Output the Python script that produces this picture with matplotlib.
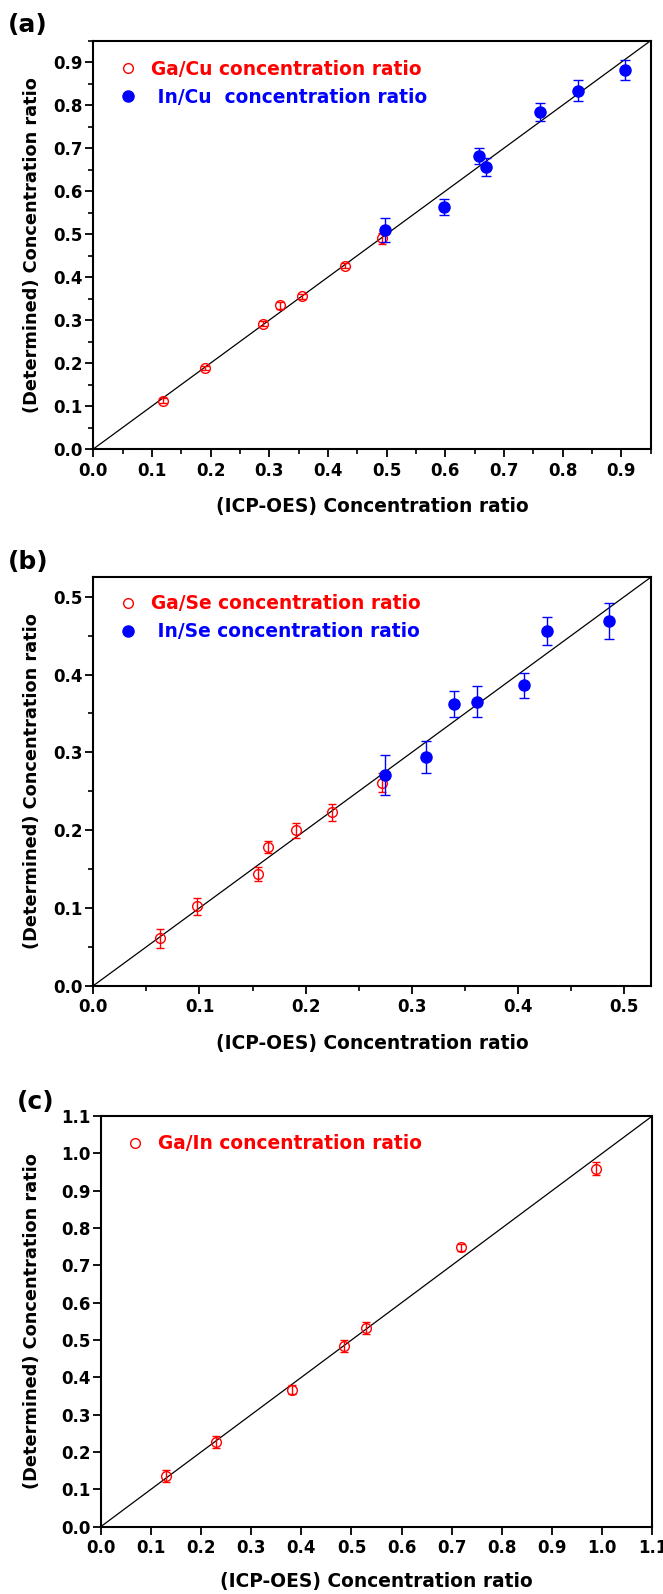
"""
plot.py
----------

Determined vs. ICP-OES concentration ratios, three stacked panels.
"""

import matplotlib
matplotlib.use('Agg')
from matplotlib import pyplot as plt
from matplotlib.lines import Line2D
from matplotlib.ticker import MultipleLocator, FormatStrFormatter

# panel (a): Ga/Cu and In/Cu
gacu_icp = [0.118, 0.190, 0.290, 0.319, 0.355, 0.429, 0.492]
gacu_det = [0.112, 0.188, 0.292, 0.334, 0.355, 0.426, 0.490]
gacu_err = [0.006, 0.005, 0.006, 0.008, 0.006, 0.006, 0.012]

incu_icp = [0.498, 0.597, 0.657, 0.670, 0.761, 0.826, 0.906]
incu_det = [0.510, 0.563, 0.682, 0.656, 0.784, 0.834, 0.882]
incu_err = [0.028, 0.019, 0.019, 0.021, 0.021, 0.024, 0.024]

# panel (b): Ga/Se and In/Se
gase_icp = [0.063, 0.098, 0.155, 0.165, 0.191, 0.225, 0.272]
gase_det = [0.061, 0.102, 0.144, 0.178, 0.200, 0.223, 0.261]
gase_err = [0.012, 0.011, 0.009, 0.008, 0.0095, 0.011, 0.012]

inse_icp = [0.275, 0.313, 0.340, 0.361, 0.406, 0.427, 0.486]
inse_det = [0.271, 0.294, 0.362, 0.365, 0.386, 0.456, 0.469]
inse_err = [0.0255, 0.021, 0.0165, 0.020, 0.0163, 0.018, 0.0227]

# panel (c): Ga/In
gain_icp = [0.131, 0.230, 0.382, 0.486, 0.529, 0.718, 0.987]
gain_det = [0.136, 0.227, 0.367, 0.484, 0.532, 0.748, 0.959]
gain_err = [0.017, 0.017, 0.012, 0.015, 0.016, 0.010, 0.017]

XLABEL = '(ICP-OES) Concentration ratio'
YLABEL = '(Determined) Concentration ratio'

RED = '#ff0000'
BLUE = '#0000ff'


def open_red(ax, x, y, err):
    """Red open circles with error bars."""
    ax.errorbar(x, y, yerr=err, fmt='o', ms=7, mfc='none', mec=RED, mew=1.0,
                ecolor=RED, elinewidth=1.0, capsize=3.2, capthick=1.0, zorder=3)


def filled_blue(ax, x, y, err):
    """Blue filled circles with error bars."""
    ax.errorbar(x, y, yerr=err, fmt='o', ms=8, mfc=BLUE, mec=BLUE, mew=1.0,
                ecolor=BLUE, elinewidth=1.0, capsize=3.6, capthick=1.0, zorder=4)


def style_axes(ax, lim, minor=True):
    """Limits, y=x line, ticks and labels shared by every panel."""
    ax.set_xlim(0, lim)
    ax.set_ylim(0, lim)
    ax.plot([0, lim], [0, lim], color='k', lw=0.9, zorder=2)

    for axis in (ax.xaxis, ax.yaxis):
        axis.set_major_locator(MultipleLocator(0.1))
        axis.set_major_formatter(FormatStrFormatter('%.1f'))
        if minor:
            axis.set_minor_locator(MultipleLocator(0.05))

    ax.tick_params(which='major', direction='out', length=6, width=1.3,
                   labelsize=12, top=False, right=False)
    ax.tick_params(which='minor', direction='out', length=3.6, width=1.2,
                   top=False, right=False)
    ax.tick_params(axis='x', which='major', pad=3)
    ax.tick_params(axis='y', which='major', pad=1.5)
    for lab in ax.get_xticklabels() + ax.get_yticklabels():
        lab.set_fontweight('bold')
    for sp in ax.spines.values():
        sp.set_linewidth(1.5)

    ax.set_xlabel(XLABEL, fontsize=13.4, fontweight='bold')
    ax.set_ylabel(YLABEL, fontsize=12.8, fontweight='bold')
    ax.xaxis.set_label_coords(0.5, -0.117)


def key(ax, labels, filled, anchor):
    """Marker-only legend with coloured text."""
    handles = []
    for f in filled:
        if f:
            handles.append(Line2D([], [], ls='none', marker='o', ms=8,
                                  mfc=BLUE, mec=BLUE))
        else:
            handles.append(Line2D([], [], ls='none', marker='o', ms=7,
                                  mfc='none', mec=RED, mew=1.0))
    leg = ax.legend(handles, labels, loc='upper left', bbox_to_anchor=anchor,
                    frameon=False, borderpad=0, borderaxespad=0,
                    handlelength=1.0, handletextpad=0.75, labelspacing=0.47,
                    prop={'size': 13.4, 'weight': 'bold'},
                    labelcolor='markeredgecolor')
    return leg


def make_figure():
    fig = plt.figure(figsize=(6.63, 15.94), dpi=100)

    # panel (a)
    ax_a = fig.add_axes([0.1407, 0.7183, 0.8407, 0.2562])
    open_red(ax_a, gacu_icp, gacu_det, gacu_err)
    filled_blue(ax_a, incu_icp, incu_det, incu_err)
    style_axes(ax_a, 0.95)
    ax_a.yaxis.set_label_coords(-0.094, 0.5)
    key(ax_a, ['Ga/Cu concentration ratio', ' In/Cu  concentration ratio'],
        [False, True], (0.045, 0.953))

    # panel (b)
    ax_b = fig.add_axes([0.1407, 0.3816, 0.8407, 0.2562])
    open_red(ax_b, gase_icp, gase_det, gase_err)
    filled_blue(ax_b, inse_icp, inse_det, inse_err)
    style_axes(ax_b, 0.525)
    ax_b.yaxis.set_label_coords(-0.094, 0.5)
    key(ax_b, ['Ga/Se concentration ratio', ' In/Se concentration ratio'],
        [False, True], (0.045, 0.958))

    # panel (c)
    ax_c = fig.add_axes([0.1519, 0.0422, 0.8321, 0.2577])
    open_red(ax_c, gain_icp, gain_det, gain_err)
    style_axes(ax_c, 1.1, minor=False)
    ax_c.yaxis.set_label_coords(-0.108, 0.5)
    ax_c.xaxis.set_label_coords(0.5, -0.11)
    key(ax_c, ['Ga/In concentration ratio'], [False], (0.0446, 0.955))

    # panel letters
    fig.text(8 / 663, 1 - 25 / 1594, '(a)', fontsize=18, fontweight='bold',
             ha='left', va='center')
    fig.text(8 / 663, 1 - 562 / 1594, '(b)', fontsize=18, fontweight='bold',
             ha='left', va='center')
    fig.text(17 / 663, 1 - 1102 / 1594, '(c)', fontsize=18, fontweight='bold',
             ha='left', va='center')

    fig.savefig('out.png', dpi=100)


if __name__ == '__main__':
    make_figure()
